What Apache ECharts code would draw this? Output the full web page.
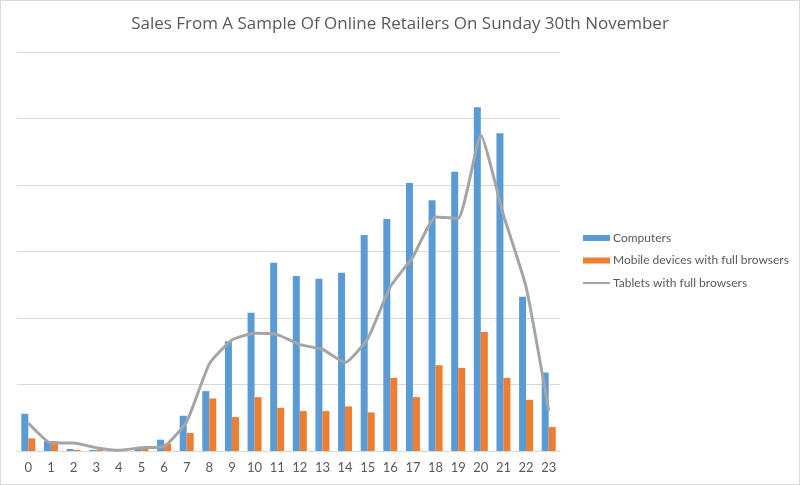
<!DOCTYPE html>
<html><head><meta charset="utf-8">
<script src="https://cdn.jsdelivr.net/npm/echarts@6/dist/echarts.min.js"></script>
<style>html,body{margin:0;padding:0;background:#fff}#c{width:798px;height:483px;border:1px solid #d9d9d9}</style>
</head><body><div id="c"></div>
<script>
const hours = ['0','1','2','3','4','5','6','7','8','9','10','11','12','13','14','15','16','17','18','19','20','21','22','23'];
const computers = [0.56,0.15,0.03,0.015,0,0.03,0.17,0.53,0.9,1.65,2.08,2.83,2.63,2.59,2.68,3.25,3.49,4.03,3.77,4.2,5.17,4.78,2.32,1.18];
const mobile = [0.19,0.15,0.015,0.02,0,0.04,0.11,0.27,0.79,0.51,0.81,0.65,0.6,0.6,0.67,0.58,1.1,0.81,1.29,1.25,1.79,1.1,0.77,0.36];
const tablets = [0.42,0.12,0.12,0.05,0.01,0.05,0.07,0.44,1.31,1.67,1.77,1.75,1.6,1.53,1.33,1.69,2.47,2.92,3.52,3.5,4.75,3.55,2.47,0.61];
const chart = echarts.init(document.getElementById('c'));
const txt = '#595959';
chart.setOption({
  animation:false,
  title:{text:'Sales From A Sample Of Online Retailers On Sunday 30th November',left:'center',top:10,
    textStyle:{fontFamily:'Open Sans',fontWeight:'normal',fontSize:17,color:txt}},
  legend:{orient:'vertical',left:576,top:226,itemGap:10.5,itemWidth:27,itemHeight:6,
    textStyle:{fontFamily:'Lato',fontSize:12,color:txt,padding:[0,0,0,-2]},
    data:[{name:'Computers',icon:'rect'},{name:'Mobile devices with full browsers',icon:'rect'},
      {name:'Tablets with full browsers',itemStyle:{opacity:0}}]},
  grid:{left:16,right:239,top:51,bottom:33},
  xAxis:{type:'category',data:hours,axisTick:{show:false},
    axisLine:{lineStyle:{color:'#d9d9d9'}},
    axisLabel:{color:txt,fontFamily:'Lato',fontSize:13,margin:10}},
  yAxis:{type:'value',min:0,max:6,interval:1,axisLabel:{show:false},axisLine:{show:false},axisTick:{show:false},
    splitLine:{lineStyle:{color:'#d9d9d9'}}},
  series:[
    {name:'Computers',type:'bar',data:computers,barWidth:7,barGap:'0%',itemStyle:{color:'#5B9BD5'}},
    {name:'Mobile devices with full browsers',type:'bar',data:mobile,barWidth:7,itemStyle:{color:'#ED7D31'}},
    {name:'Tablets with full browsers',type:'line',data:tablets,symbol:'none',smooth:0.15,
      lineStyle:{color:'#A5A5A5',width:3},itemStyle:{color:'#A5A5A5'}}
  ]
});
</script></body></html>
